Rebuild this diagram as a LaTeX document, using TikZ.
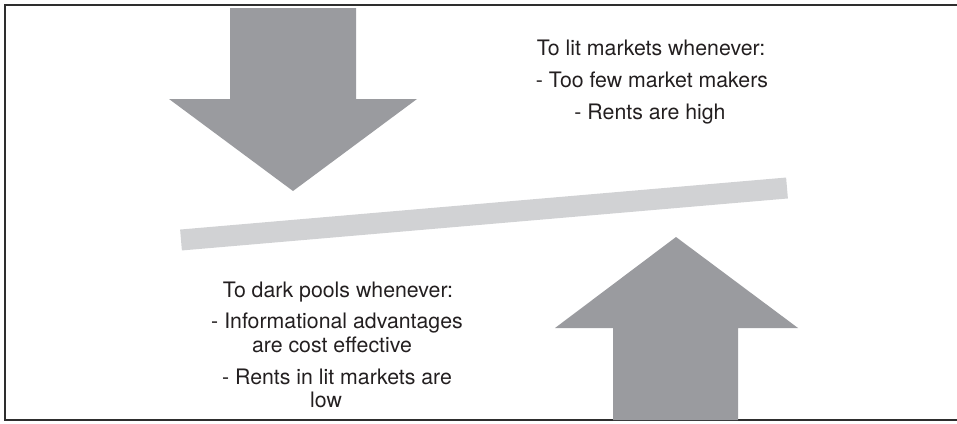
\documentclass[tikz,border=0pt]{standalone}
\usepackage{fontspec}
\setmainfont{TeX Gyre Heros}
\definecolor{arrowgray}{HTML}{9A9B9F}
\definecolor{bargray}{HTML}{D1D2D4}
\definecolor{framecol}{HTML}{2E2E2E}
\definecolor{txtcol}{HTML}{231F20}
\begin{document}
\begin{tikzpicture}[x=1pt,y=-1pt,
  lbl/.style={anchor=base,inner sep=0pt,text=txtcol,font=\fontsize{21.3}{25}\selectfont},
  bigarrow/.style={fill=arrowgray,draw=none}]
\useasboundingbox (0,0) rectangle (957,423);
% frame
\draw[framecol,line width=2.2] (957,5) -- (5,5) -- (5,420) -- (957,420);
% down arrow
\path[bigarrow] (230,8) -- (356,8) -- (356,99) -- (417,99) -- (293,191) -- (169,99) -- (230,99) -- cycle;
% up arrow
\path[bigarrow] (613,420) -- (613,328) -- (555,328) -- (676,237) -- (798,328) -- (738,328) -- (738,420) -- cycle;
% balance bar
\coordinate (barL) at (181,240);
\coordinate (barR) at (787,188);
\draw[bargray,line width=21] (barL) -- (barR);
% top text
\node[lbl] (t1) at (651,55) {To lit markets whenever:};
\node[lbl] (t2) at (652,87) {- Too few market makers};
\node[lbl] (t3) at (650,119) {- Rents are high};
% bottom text
\node[lbl] (b1) at (338,297) {To dark pools whenever:};
\node[lbl] (b2) at (337,328) {- Informational advantages};
\node[lbl] (b3) at (332,352) {are cost effective};
\node[lbl] (b4) at (337,384) {- Rents in lit markets are};
\node[lbl] (b5) at (326,407) {low};
\end{tikzpicture}
\end{document}
